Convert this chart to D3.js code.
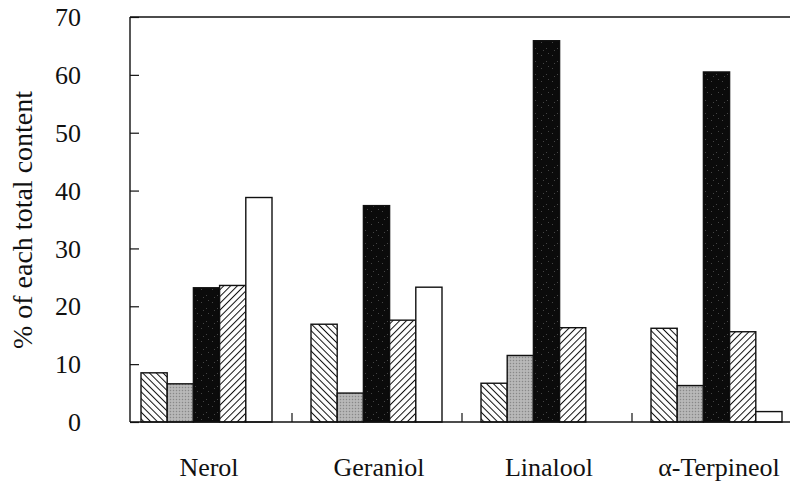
<!DOCTYPE html>
<html>
<head>
<meta charset="utf-8">
<script src="https://cdn.jsdelivr.net/npm/d3@7"></script>
<style>
  html, body { margin: 0; padding: 0; background: #fff; }
  svg { display: block; }
</style>
</head>
<body>
<svg id="chart" width="792" height="482"></svg>
<script>
const categories = ["Nerol", "Geraniol", "Linalool", "α-Terpineol"];
const seriesNames = ["Series 1", "Series 2", "Series 3", "Series 4", "Series 5"];
const series1 = [8.5, 16.9, 6.7, 16.2];
const series2 = [6.6, 5.0, 11.5, 6.3];
const series3 = [23.2, 37.4, 65.9, 60.5];
const series4 = [23.6, 17.6, 16.3, 15.6];
const series5 = [38.8, 23.3, 0, 1.8];
const yTicks = [0, 10, 20, 30, 40, 50, 60, 70];
const yLabel = "% of each total content";

(function () {
const FONT = "Liberation Serif";
const allSeries = [series1, series2, series3, series4, series5];
const svg = d3.select("#chart");
const defs = svg.append("defs");

function hatch(id, angle) {
  const p = defs.append("pattern").attr("id", id)
    .attr("patternUnits", "userSpaceOnUse").attr("width", 4.8).attr("height", 4.8)
    .attr("patternTransform", `rotate(${angle})`);
  p.append("rect").attr("width", 4.8).attr("height", 4.8).attr("fill", "#fff");
  p.append("line").attr("x1", 0).attr("y1", 0).attr("x2", 0).attr("y2", 4.8)
    .attr("stroke", "#111").attr("stroke-width", 2);
}
hatch("hatchBack", -45);
hatch("hatchFwd", 45);
const pg = defs.append("pattern").attr("id", "gray")
  .attr("patternUnits", "userSpaceOnUse").attr("width", 3).attr("height", 3);
pg.append("rect").attr("width", 3).attr("height", 3).attr("fill", "#b0b0b0");
pg.append("rect").attr("x", 0).attr("y", 0).attr("width", 1).attr("height", 1).attr("fill", "#888");
pg.append("rect").attr("x", 1.5).attr("y", 1.5).attr("width", 1).attr("height", 1).attr("fill", "#d0d0d0");
const pb = defs.append("pattern").attr("id", "black")
  .attr("patternUnits", "userSpaceOnUse").attr("width", 11).attr("height", 13);
pb.append("rect").attr("width", 11).attr("height", 13).attr("fill", "#0b0b0b");
[[2,3],[7,9],[9,1],[4,11]].forEach(([x,yy]) =>
  pb.append("rect").attr("x", x).attr("y", yy).attr("width", 0.8).attr("height", 0.8).attr("fill", "#666"));

const fills = ["url(#hatchBack)", "url(#gray)", "url(#black)", "url(#hatchFwd)", "#fff"];

const pLeft = 130, pRight = 790, pTop = 17, pBottom = 422;
const y = d3.scaleLinear().domain([0, 70]).range([pBottom, pTop]);
const xBars = d3.scaleBand().domain(categories).range([122, 802]);
const xInner = d3.scaleBand().domain(d3.range(5)).range([19, 150]);

const groups = svg.append("g").selectAll("g").data(categories).join("g")
  .attr("transform", d => `translate(${xBars(d)},0)`);
groups.selectAll("rect")
  .data((c, ci) => allSeries.map((s, si) => ({ si, v: s[ci] })).filter(d => d.v > 0))
  .join("rect")
  .attr("x", d => xInner(d.si))
  .attr("width", xInner.bandwidth())
  .attr("y", d => y(d.v))
  .attr("height", d => pBottom - y(d.v))
  .attr("fill", d => fills[d.si])
  .attr("stroke", "#111").attr("stroke-width", 1.4);

svg.append("line").attr("x1", pLeft).attr("x2", pLeft).attr("y1", pTop).attr("y2", pBottom)
  .attr("stroke", "#111").attr("stroke-width", 1.4);
svg.append("line").attr("x1", pLeft).attr("x2", pRight).attr("y1", pTop).attr("y2", pTop)
  .attr("stroke", "#111").attr("stroke-width", 1.4);
svg.append("line").attr("x1", pLeft).attr("x2", pRight).attr("y1", pBottom).attr("y2", pBottom)
  .attr("stroke", "#111").attr("stroke-width", 1.6);

const yAxis = d3.axisRight(y).tickValues(yTicks).tickSize(9).tickFormat("");
const yg = svg.append("g").attr("transform", `translate(${pLeft},0)`).call(yAxis);
yg.select(".domain").remove();
yg.selectAll("line").attr("stroke", "#111").attr("stroke-width", 1.2);
svg.append("g").selectAll("text").data(yTicks).join("text")
  .attr("x", 81).attr("y", d => y(d)).attr("dy", "0.35em")
  .attr("text-anchor", "end").style("font-family", FONT).style("font-size", "26px")
  .attr("fill", "#111").text(d => d);

const sepTicks = categories.slice(1).map(c => xBars(c));
svg.append("g").selectAll("line").data(sepTicks).join("line")
  .attr("x1", d => d).attr("x2", d => d).attr("y1", pBottom).attr("y2", pBottom - 9)
  .attr("stroke", "#111").attr("stroke-width", 1.2);

svg.append("g").selectAll("text").data(categories).join("text")
  .attr("x", d => xBars(d) + xBars.bandwidth() / 2 + 2).attr("y", 476)
  .attr("text-anchor", "middle").style("font-family", FONT).style("font-size", "26px")
  .attr("fill", "#111").text(d => d);

svg.append("text").attr("transform", `translate(32,220) rotate(-90)`)
  .attr("text-anchor", "middle").style("font-family", FONT).style("font-size", "28px")
  .attr("fill", "#111").text(yLabel);
})();
</script>
</body>
</html>
